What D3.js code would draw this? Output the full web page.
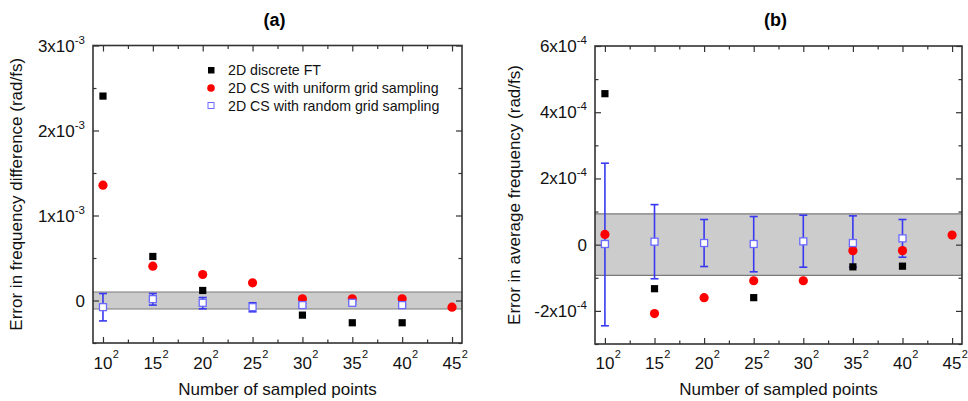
<!DOCTYPE html>
<html><head><meta charset="utf-8">
<script src="https://cdn.jsdelivr.net/npm/d3@7/dist/d3.min.js"></script>
<style>body{margin:0;background:#fff}svg{display:block;font-family:"Liberation Sans",Arial,sans-serif}</style>
</head><body><svg id="c" width="968" height="401"></svg>
<script>
// ---- data ----
const categories = [10, 15, 20, 25, 30, 35, 40, 45];
const xTickLabels = ["10", "15", "20", "25", "30", "35", "40", "45"];
const seriesNames = ["2D discrete FT", "2D CS with uniform grid sampling", "2D CS with random grid sampling"];

// panel (a): error in frequency difference (rad/fs)
const aFT   = [2.405e-3, 0.518e-3, 0.118e-3, null, -0.172e-3, -0.262e-3, -0.262e-3, null];
const aUni  = [1.357e-3, 0.404e-3, 0.306e-3, 0.208e-3, 0.02e-3, 0.02e-3, 0.02e-3, -0.078e-3];
const aRand = [-0.078e-3, 0.016e-3, -0.027e-3, -0.078e-3, -0.054e-3, -0.027e-3, -0.054e-3, null];
const aRandLo = [-0.24e-3, -0.054e-3, -0.098e-3, -0.133e-3, -0.072e-3, -0.042e-3, -0.068e-3, null];
const aRandHi = [0.082e-3, 0.082e-3, 0.035e-3, -0.027e-3, -0.036e-3, -0.012e-3, -0.040e-3, null];
const aBand = [-1e-4, 1e-4];
const aYTicks = [0, 1e-3, 2e-3, 3e-3];
const aYTickLabels = [["0", ""], ["1x10", "-3"], ["2x10", "-3"], ["3x10", "-3"]];

// panel (b): error in average frequency (rad/fs)
const bFT   = [4.56e-4, -1.33e-4, null, -1.6e-4, null, -0.67e-4, -0.65e-4, null];
const bUni  = [0.31e-4, -2.08e-4, -1.6e-4, -1.09e-4, -1.09e-4, -0.18e-4, -0.18e-4, 0.29e-4];
const bRand = [0.02e-4, 0.09e-4, 0.05e-4, 0.02e-4, 0.10e-4, 0.05e-4, 0.19e-4, null];
const bRandLo = [-2.45e-4, -1.03e-4, -0.66e-4, -0.82e-4, -0.68e-4, -0.68e-4, -0.38e-4, null];
const bRandHi = [2.46e-4, 1.21e-4, 0.76e-4, 0.85e-4, 0.89e-4, 0.87e-4, 0.76e-4, null];
const bBand = [-0.93e-4, 0.93e-4];
const bYTicks = [-2e-4, 0, 2e-4, 4e-4, 6e-4];
const bYTickLabels = [["-2x10", "-4"], ["0", ""], ["2x10", "-4"], ["4x10", "-4"], ["6x10", "-4"]];

// ---- drawing ----
const svg = d3.select("#c");
const AX = "#333";

function panel(cfg) {
  const {l, r, t, b, yDom, yMinor, ft, uni, rand, lo, hi, band, yTicks, yLabels, title, ylabel, ylabelX, legend} = cfg;
  const x = d3.scaleLinear().domain([9, 46]).range([l, r]);
  const y = d3.scaleLinear().domain(yDom).range([b, t]);
  const g = svg.append("g");

  // band
  g.append("rect").attr("x", l).attr("width", r - l)
    .attr("y", y(band[1])).attr("height", y(band[0]) - y(band[1]))
    .attr("fill", "#cccccc");
  [band[0], band[1]].forEach(v => g.append("line").attr("x1", l).attr("x2", r)
    .attr("y1", y(v)).attr("y2", y(v)).attr("stroke", "#7a7a7a").attr("stroke-width", 1.2));

  // axes with inward ticks
  const xMinor = categories.slice(0, -1).map(c => c + 2.5);
  const mk = (axisFn, scale, ticks, size) => axisFn(scale).tickValues(ticks).tickSize(size).tickFormat("");
  const drawAxis = (axis, tx, ty) => {
    const a = g.append("g").attr("transform", `translate(${tx},${ty})`).call(axis);
    a.select(".domain").remove();
    a.selectAll("line").attr("stroke", AX).attr("stroke-width", 1.2);
  };
  drawAxis(mk(d3.axisTop, x, categories, 6), 0, b);
  drawAxis(mk(d3.axisTop, x, xMinor, 3.5), 0, b);
  drawAxis(mk(d3.axisBottom, x, categories, 6), 0, t);
  drawAxis(mk(d3.axisBottom, x, xMinor, 3.5), 0, t);
  drawAxis(mk(d3.axisRight, y, yTicks, 6), l, 0);
  drawAxis(mk(d3.axisRight, y, yMinor, 3.5), l, 0);
  drawAxis(mk(d3.axisLeft, y, yTicks, 6), r, 0);
  drawAxis(mk(d3.axisLeft, y, yMinor, 3.5), r, 0);
  g.append("rect").attr("x", l).attr("y", t).attr("width", r - l).attr("height", b - t)
    .attr("fill", "none").attr("stroke", AX).attr("stroke-width", 1.6);

  // y tick labels
  yTicks.forEach((v, i) => {
    const [base, sup] = yLabels[i];
    const tx = g.append("text").attr("x", l - 8).attr("y", y(v) + 6)
      .attr("text-anchor", "end").attr("font-size", 17).attr("fill", "#111");
    tx.append("tspan").text(base);
    if (sup) tx.append("tspan").attr("dy", -8).attr("font-size", 11.5).text(sup);
  });
  // x tick labels
  categories.forEach((c, i) => {
    const bt = g.append("text").attr("x", x(c)).attr("y", 369).attr("text-anchor", "middle")
      .attr("font-size", 17).attr("fill", "#111").text(xTickLabels[i]);
    const w = bt.node().getComputedTextLength();
    g.append("text").attr("x", x(c) + w / 2 + 0.3).attr("y", 358).attr("font-size", 11)
      .attr("fill", "#111").text("2");
  });

  // titles
  g.append("text").attr("x", (l + r) / 2 - 3).attr("y", 26).attr("text-anchor", "middle")
    .attr("font-size", 18).attr("font-weight", "bold").text(title);
  g.append("text").attr("x", (l + r) / 2).attr("y", 395).attr("text-anchor", "middle")
    .attr("font-size", 17).attr("fill", "#111").text("Number of sampled points");
  g.append("text").attr("transform", `translate(${ylabelX},${(t + b) / 2}) rotate(-90)`)
    .attr("text-anchor", "middle").attr("font-size", 17).attr("fill", "#111").text(ylabel);

  const idx = d3.range(categories.length);
  // error bars
  const eb = idx.filter(i => rand[i] != null);
  eb.forEach(i => {
    const cx = x(categories[i]);
    g.append("line").attr("x1", cx).attr("x2", cx).attr("y1", y(hi[i])).attr("y2", y(lo[i]))
      .attr("stroke", "#3838f0").attr("stroke-width", 1.6);
    [hi[i], lo[i]].forEach(v => g.append("line").attr("x1", cx - 4).attr("x2", cx + 4)
      .attr("y1", y(v)).attr("y2", y(v)).attr("stroke", "#3838f0").attr("stroke-width", 1.6));
  });
  // black squares
  g.selectAll(".ft").data(idx.filter(i => ft[i] != null)).join("rect")
    .attr("x", i => x(categories[i]) - 3.6).attr("y", i => y(ft[i]) - 3.6)
    .attr("width", 7.2).attr("height", 7.2).attr("fill", "#000");
  // red circles
  g.selectAll(".uni").data(idx.filter(i => uni[i] != null)).join("circle")
    .attr("cx", i => x(categories[i])).attr("cy", i => y(uni[i])).attr("r", 4.6).attr("fill", "#ff0000");
  // blue open squares
  g.selectAll(".rnd").data(eb).join("rect")
    .attr("x", i => x(categories[i]) - 3.5).attr("y", i => y(rand[i]) - 3.5)
    .attr("width", 7).attr("height", 7).attr("fill", "#fff").attr("stroke", "#6a6aff").attr("stroke-width", 1.3);

  if (legend) {
    const lx = 211, ly = [70, 88, 105.5];
    g.append("rect").attr("x", lx - 3).attr("y", ly[0] - 3).attr("width", 6.5).attr("height", 6.5).attr("fill", "#000");
    g.append("circle").attr("cx", lx).attr("cy", ly[1]).attr("r", 3.8).attr("fill", "#ff0000");
    g.append("rect").attr("x", lx - 3).attr("y", ly[2] - 3).attr("width", 6).attr("height", 6)
      .attr("fill", "#fff").attr("stroke", "#6a6aff").attr("stroke-width", 1);
    seriesNames.forEach((s, i) => g.append("text").attr("x", 228).attr("y", ly[i] + 5)
      .attr("font-size", 14.2).attr("fill", "#111").text(s));
  }
}

panel({l: 93, r: 462, t: 45.5, b: 343, yDom: [-0.5e-3, 3e-3],
  yMinor: [-0.5e-3, 0.5e-3, 1.5e-3, 2.5e-3],
  ft: aFT, uni: aUni, rand: aRand, lo: aRandLo, hi: aRandHi, band: aBand,
  yTicks: aYTicks, yLabels: aYTickLabels, title: "(a)",
  ylabel: "Error in frequency difference (rad/fs)", ylabelX: 22, legend: true});

panel({l: 595, r: 962, t: 46, b: 344, yDom: [-3e-4, 6e-4],
  yMinor: [-3e-4, -1e-4, 1e-4, 3e-4, 5e-4],
  ft: bFT, uni: bUni, rand: bRand, lo: bRandLo, hi: bRandHi, band: bBand,
  yTicks: bYTicks, yLabels: bYTickLabels, title: "(b)",
  ylabel: "Error in average frequency (rad/fs)", ylabelX: 520, legend: false});
</script></body></html>
